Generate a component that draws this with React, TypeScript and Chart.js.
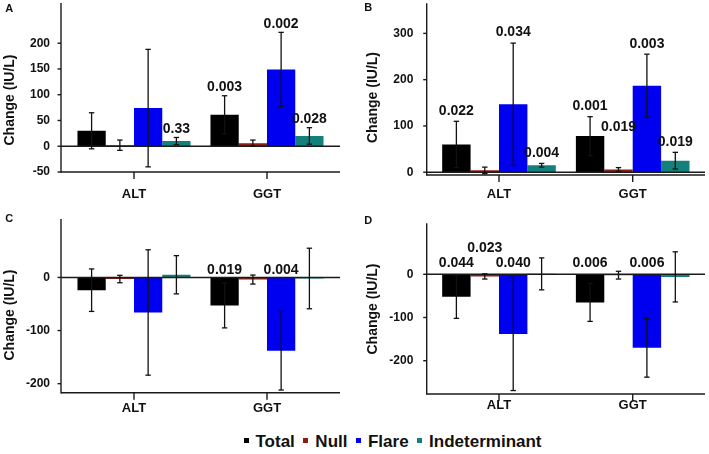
import React, { useEffect, useRef } from 'react';
import { Chart, registerables } from 'chart.js';

Chart.register(...registerables);

const FONT = '"Liberation Sans", Arial, Helvetica, sans-serif';

const categories = ['ALT', 'GGT'];
const seriesNames = ['Total', 'Null', 'Flare', 'Indeterminant'];
const seriesColors = ['#000000', '#8b1d14', '#0000f0', '#14807b'];
const yTitle = 'Change (IU/L)';

// Panel A
const aTotal = [30, 61];
const aTotalErr = [35, 37];
const aNull = [2, 6];
const aNullErr = [10, 6];
const aFlare = [74, 149];
const aFlareErr = [114, 72];
const aIndet = [10, 20];
const aIndetErr = [7, 16];
const aTotalP = ['', '0.003'];
const aNullP = ['', ''];
const aFlareP = ['', '0.002'];
const aIndetP = ['0.33', '0.028'];
const aTicks = [-50, 0, 50, 100, 150, 200];

// Panel B
const bTotal = [60, 78];
const bTotalErr = [50, 42];
const bNull = [4, 6];
const bNullErr = [7, 4];
const bFlare = [147, 187];
const bFlareErr = [132, 68];
const bIndet = [15, 25];
const bIndetErr = [4, 18];
const bTotalP = ['0.022', '0.001'];
const bNullP = ['', '0.019'];
const bFlareP = ['0.034', '0.003'];
const bIndetP = ['0.004', '0.019'];
const bTicks = [0, 100, 200, 300];

// Panel C
const cTotal = [-24, -53];
const cTotalErr = [40, 42];
const cNull = [-3, -4];
const cNullErr = [7, 8.5];
const cFlare = [-66, -138];
const cFlareErr = [118, 74];
const cIndet = [5, -2];
const cIndetErr = [36, 57];
const cTotalP = ['', '0.019'];
const cNullP = ['', ''];
const cFlareP = ['', '0.004'];
const cIndetP = ['', ''];
const cTicks = [-200, -100, 0];

// Panel D
const dTotal = [-52, -65];
const dTotalErr = [50, 44];
const dNull = [-5, -2];
const dNullErr = [6, 9];
const dFlare = [-138, -170];
const dFlareErr = [131, 68];
const dIndet = [1, -6];
const dIndetErr = [37, 58];
const dTotalP = ['0.044', '0.006'];
const dNullP = ['0.023', ''];
const dFlareP = ['0.040', '0.006'];
const dIndetP = ['', ''];
const dTicks = [-200, -100, 0];

type Layout = {
  left: number; top: number; w: number; h: number;
  axisX: number; axisRight: number; inset: number;
  plotTop: number; plotBottom: number;
  yMin: number; yMax: number; tickPad: number; xPad: number;
  labelGap: number; letter: [number, number]; title: [number, number];
  lifts: [number, number, number][];
};

const panels = [
  {
    name: 'A', ticks: aTicks,
    values: [aTotal, aNull, aFlare, aIndet],
    errors: [aTotalErr, aNullErr, aFlareErr, aIndetErr],
    pvals: [aTotalP, aNullP, aFlareP, aIndetP],
    layout: { left: 0, top: 0, w: 355, h: 205, axisX: 61, axisRight: 340, inset: 6.5, plotTop: 3, plotBottom: 172, yMin: -50, yMax: 278, tickPad: 17.5, xPad: 15, labelGap: 8.5, letter: [9.3, 9.3], title: [10, 100], lifts: [] } as Layout,
  },
  {
    name: 'B', ticks: bTicks,
    values: [bTotal, bNull, bFlare, bIndet],
    errors: [bTotalErr, bNullErr, bFlareErr, bIndetErr],
    pvals: [bTotalP, bNullP, bFlareP, bIndetP],
    layout: { left: 355, top: 0, w: 354, h: 205, axisX: 71.7, axisRight: 350, inset: 5.45, plotTop: 3.3, plotBottom: 175, yMin: -6, yMax: 365, tickPad: 18.85, xPad: 12, labelGap: 10.5, letter: [13.3, 7.7], title: [18.3, 97.5], lifts: [[1, 1, 30]] } as Layout,
  },
  {
    name: 'C', ticks: cTicks,
    values: [cTotal, cNull, cFlare, cIndet],
    errors: [cTotalErr, cNullErr, cFlareErr, cIndetErr],
    pvals: [cTotalP, cNullP, cFlareP, cIndetP],
    layout: { left: 0, top: 205, w: 355, h: 210, axisX: 61, axisRight: 340, inset: 6.5, plotTop: 14, plotBottom: 187.7, yMin: -217, yMax: 110, tickPad: 17.5, xPad: 8, labelGap: 7.7, letter: [9.3, 14], title: [10, 110], lifts: [] } as Layout,
  },
  {
    name: 'D', ticks: dTicks,
    values: [dTotal, dNull, dFlare, dIndet],
    errors: [dTotalErr, dNullErr, dFlareErr, dIndetErr],
    pvals: [dTotalP, dNullP, dFlareP, dIndetP],
    layout: { left: 355, top: 205, w: 354, h: 210, axisX: 71.7, axisRight: 350, inset: 5.45, plotTop: 18.3, plotBottom: 189, yMin: -277, yMax: 118, tickPad: 18.85, xPad: 4, labelGap: 11, letter: [13.3, 15.7], title: [18.3, 104], lifts: [[1, 0, 15]] } as Layout,
  },
];

type PanelDef = typeof panels[number];

function Panel({ p }: { p: PanelDef }) {
  const ref = useRef<HTMLCanvasElement>(null);
  useEffect(() => {
    const L = p.layout;
    const decor = {
      id: 'decor',
      afterDatasetsDraw(chart: any) {
        const { ctx, chartArea } = chart;
        const x = chart.scales.x;
        const y = chart.scales.y;
        const ax = L.axisX;
        const ar = L.axisRight;
        const seg = (x1: number, y1: number, x2: number, y2: number) => {
          ctx.beginPath();
          ctx.moveTo(x1, y1);
          ctx.lineTo(x2, y2);
          ctx.stroke();
        };
        ctx.save();
        ctx.strokeStyle = '#1a1a1a';
        ctx.lineWidth = 1.4;
        seg(ax, chartArea.top, ax, chartArea.bottom + 0.7);
        seg(ax, chartArea.bottom, ar, chartArea.bottom);
        const z = y.getPixelForValue(0);
        seg(ax, z, ar, z);
        y.ticks.forEach((t: any) => {
          const py = y.getPixelForValue(t.value);
          seg(ax - 3.5, py, ax, py);
        });
        categories.forEach((_, i) => {
          const px = x.getPixelForValue(i);
          seg(px, chartArea.bottom, px, chartArea.bottom + 7);
        });
        // error bars
        ctx.strokeStyle = '#111';
        ctx.lineWidth = 1.3;
        chart.data.datasets.forEach((ds: any, di: number) => {
          const meta = chart.getDatasetMeta(di);
          meta.data.forEach((bar: any, i: number) => {
            const v = ds.data[i];
            const e = ds.errors[i];
            const t = y.getPixelForValue(v + e);
            const b = y.getPixelForValue(v - e);
            seg(bar.x, t, bar.x, b);
            seg(bar.x - 2.7, t, bar.x + 2.7, t);
            seg(bar.x - 2.7, b, bar.x + 2.7, b);
          });
        });
        // p-value labels
        ctx.fillStyle = '#111';
        ctx.font = `bold 14px ${FONT}`;
        ctx.textAlign = 'center';
        ctx.textBaseline = 'middle';
        chart.data.datasets.forEach((ds: any, di: number) => {
          const meta = chart.getDatasetMeta(di);
          meta.data.forEach((bar: any, i: number) => {
            const txt = ds.pvals[i];
            if (!txt) return;
            const v = ds.data[i];
            const anchor = Math.max(0, v, v + ds.errors[i]);
            let py = y.getPixelForValue(anchor) - L.labelGap;
            L.lifts.forEach(([d, c, px]) => {
              if (d === di && c === i) py -= px;
            });
            ctx.fillText(txt, bar.x, py);
          });
        });
        // panel letter
        ctx.font = `bold 11px ${FONT}`;
        ctx.fillText(p.name, L.letter[0], L.letter[1]);
        // y title
        ctx.save();
        ctx.translate(L.title[0], L.title[1]);
        ctx.rotate(-Math.PI / 2);
        ctx.font = `bold 14px ${FONT}`;
        ctx.fillText(yTitle, 0, 0);
        ctx.restore();
        ctx.restore();
      },
    };
    const chart = new Chart(ref.current as HTMLCanvasElement, {
      type: 'bar',
      data: {
        labels: categories,
        datasets: p.values.map((vals, i) => ({
          label: seriesNames[i],
          data: vals,
          errors: p.errors[i],
          pvals: p.pvals[i],
          backgroundColor: seriesColors[i],
          borderWidth: 0,
          categoryPercentage: 0.85,
          barPercentage: 1,
        })) as any,
      },
      options: {
        responsive: false,
        animation: false,
        layout: { padding: { left: 0, top: L.plotTop, right: L.w - (L.axisRight - L.inset), bottom: 0 } },
        plugins: { legend: { display: false }, tooltip: { enabled: false } },
        scales: {
          x: {
            type: 'category',
            offset: true,
            grid: { display: false, drawTicks: false },
            border: { display: false },
            ticks: { color: '#111', font: { family: FONT, size: 13, weight: 'bold' }, padding: L.xPad, maxRotation: 0, autoSkip: false },
            afterFit: (s: any) => { s.height = L.h - L.plotBottom; s.paddingLeft = 0; s.paddingRight = 0; },
          },
          y: {
            type: 'linear',
            min: L.yMin,
            max: L.yMax,
            grid: { display: false, drawTicks: false },
            border: { display: false },
            ticks: { color: '#111', font: { family: FONT, size: 12, weight: 'bold' }, padding: L.tickPad },
            afterBuildTicks: (s: any) => { s.ticks = p.ticks.map((v) => ({ value: v })); },
            afterFit: (s: any) => { s.width = L.axisX + L.inset; s.paddingTop = 0; s.paddingBottom = 0; },
          },
        },
      } as any,
      plugins: [decor],
    });
    return () => chart.destroy();
  }, [p]);
  const L = p.layout;
  return (
    <canvas
      ref={ref}
      width={L.w}
      height={L.h}
      style={{ position: 'absolute', left: L.left, top: L.top, width: L.w, height: L.h }}
    />
  );
}

export default function App() {
  return (
    <div style={{ position: 'absolute', left: 0, top: 0, width: 709, height: 454, background: '#fff', overflow: 'hidden' }}>
      {panels.map((p) => (
        <Panel key={p.name} p={p} />
      ))}
      <div
        style={{
          position: 'absolute', left: 243.5, top: 432, display: 'flex', alignItems: 'center',
          fontFamily: FONT, fontWeight: 'bold', fontSize: 17, lineHeight: '20px', color: '#111', whiteSpace: 'nowrap',
        }}
      >
        {seriesNames.map((n, i) => (
          <span key={n} style={{ display: 'flex', alignItems: 'center', marginRight: 8.5 }}>
            <span style={{ display: 'inline-block', width: 5, height: 5, background: seriesColors[i], marginRight: 7, position: 'relative', top: -1.5 }} />
            <span>{n}</span>
          </span>
        ))}
      </div>
    </div>
  );
}
